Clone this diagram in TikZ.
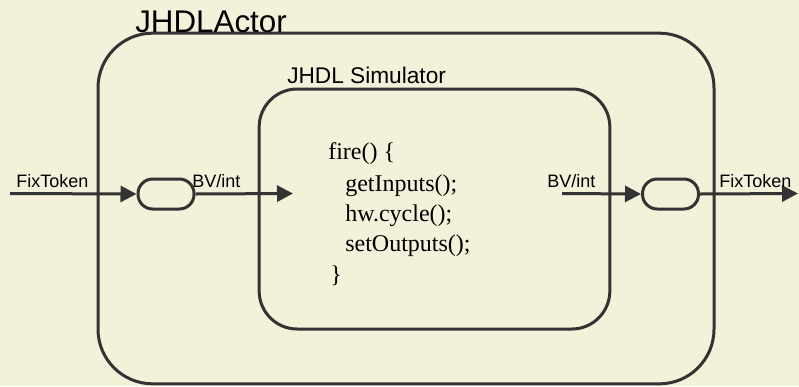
\documentclass[tikz,border=0pt]{standalone}
\usepackage{fontspec}
\setmainfont{Liberation Serif}
\newfontfamily\arialf{Liberation Sans}
\usetikzlibrary{arrows.meta}
\definecolor{bgc}{RGB}{243,241,217}
\definecolor{linec}{RGB}{51,51,51}
\tikzset{
  frame/.style={draw=linec, line width=2.25pt, rectangle, inner sep=0pt},
  pill/.style={draw=linec, line width=2.25pt, rectangle, rounded corners=11pt, minimum width=42pt, minimum height=22.5pt, inner sep=0pt},
  conn/.style={draw=linec, line width=2.25pt, -{Triangle[length=12pt,width=12pt]}},
  lbl/.style={anchor=base west, inner sep=0pt, font=\arialf\fontsize{13.5}{15}\selectfont},
  code/.style={anchor=base west, inner sep=0pt, font=\fontsize{18}{21}\selectfont}
}
\begin{document}
\begin{tikzpicture}[x=0.75pt,y=-0.75pt]
\fill[bgc] (0,0) rectangle (799,386);
\useasboundingbox (0,0) rectangle (799,386);
% boxes
\node[frame, rounded corners=41pt, minimum width=462pt, minimum height=263pt] (actor) at (406,208.5) {};
\node[frame, rounded corners=28.5pt, minimum width=263pt, minimum height=180pt] (sim) at (434.5,209) {};
% titles
\node[anchor=base west, inner sep=0pt, font=\arialf\fontsize{23.5}{26}\selectfont] (actorlbl) at (135,32) {JHDLActor};
\node[anchor=base west, inner sep=0pt, font=\arialf\fontsize{17}{20}\selectfont] (simlbl) at (287,83.3) {JHDL Simulator};
% pills
\node[pill] (lp) at (166,194) {};
\node[pill] (rp) at (670.5,194) {};
% free ends
\coordinate (inL) at (10,193.5);
\coordinate (simIn) at (293,193.5);
\coordinate (simOut) at (562,193.5);
\coordinate (outR) at (798,193.5);
% connectors
\draw[conn] (inL) -- (lp.west);
\draw[conn] (lp.east) -- (simIn);
\draw[conn] (simOut) -- (rp.west);
\draw[conn] (rp.east) -- (outR);
% labels
\node[lbl] (fixL) at (16,187.7) {FixToken};
\node[lbl] (bvL) at (192,187.7) {BV/int};
\node[lbl] (bvR) at (547,187.7) {BV/int};
\node[lbl] (fixR) at (719,187.7) {FixToken};
% code
\node[code] (c1) at (328,159) {fire() \{};
\node[code] (c2) at (345,191.5) {getInputs();};
\node[code] (c3) at (345,221.7) {hw.cycle();};
\node[code] (c4) at (345,251.7) {setOutputs();};
\node[code] (c5) at (330,282) {\}};
\end{tikzpicture}
\end{document}
